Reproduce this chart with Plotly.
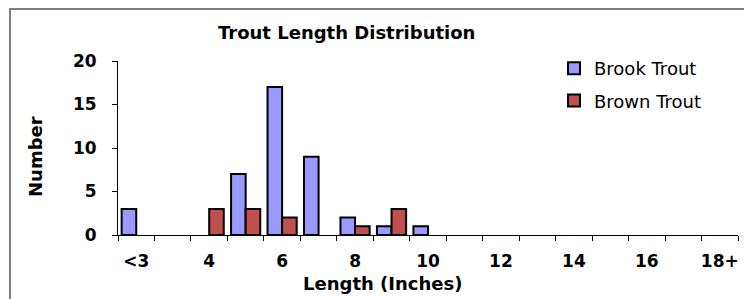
import plotly.graph_objects as go

categories = ["<3", "3", "4", "5", "6", "7", "8", "9", "10", "11", "12",
              "13", "14", "15", "16", "17", "18+"]
brook_trout = [3, 0, 0, 7, 17, 9, 2, 1, 1, 0, 0, 0, 0, 0, 0, 0, 0]
brown_trout = [0, 0, 3, 3, 2, 0, 1, 3, 0, 0, 0, 0, 0, 0, 0, 0, 0]
y_ticks = [0, 5, 10, 15, 20]
tick_text = [c if i % 2 == 0 else "" for i, c in enumerate(categories)]

FONT = "DejaVu Sans"

# page body has an 8px margin; the figure is sized to fit inside the window
OFF = 8
W, H = 752 - OFF, 299 - OFF
# target plot-area edges in window pixels
L, R, T, B = 118, 738, 61, 235
def dx(px):
    return (px - L) / (R - L)
def dy(py):
    return (B - py) / (B - T)

def drawn(vals):
    # empty classes are left blank, as in the original chart
    return [v if v > 0 else None for v in vals]

fig = go.Figure()
fig.add_trace(go.Bar(x=categories, y=drawn(brook_trout), name="Brook Trout",
                     marker=dict(color="#9999FF", line=dict(color="black", width=2)),
                     legendgroup="a"))
fig.add_trace(go.Bar(x=categories, y=drawn(brown_trout), name="Brown Trout",
                     marker=dict(color="#C0504D", line=dict(color="black", width=2)),
                     legendgroup="b"))

fig.update_layout(
    width=W, height=H,
    margin=dict(l=L - OFF, r=752 - R, t=T - OFF, b=299 - B, autoexpand=False),
    paper_bgcolor="white", plot_bgcolor="white",
    barmode="group", bargap=0.2, bargroupgap=0,
    font=dict(family=FONT, color="black"),
    showlegend=True,
    legend=dict(x=dx(554), y=dy(50), xanchor="left", yanchor="top",
                font=dict(family=FONT, size=18, color="black"),
                traceorder="grouped", tracegroupgap=6,
                bgcolor="rgba(0,0,0,0)", itemwidth=30),
    xaxis=dict(type="category", tickvals=categories, ticktext=tick_text,
               tickson="boundaries", ticks="outside", ticklen=5, tickwidth=1,
               tickcolor="black", showline=True, linecolor="black", linewidth=1,
               showgrid=False, tickangle=0, automargin=False,
               ticklabelstandoff=11,
               tickfont=dict(family=FONT, size=17, weight="bold"),
               range=[-0.5, 16.5]),
    yaxis=dict(range=[0, 20], tickvals=y_ticks, ticks="outside", ticklen=5,
               tickwidth=1, tickcolor="black", showline=True, linecolor="black",
               linewidth=1, showgrid=False, zeroline=False, automargin=False,
               ticklabelstandoff=12,
               tickfont=dict(family=FONT, size=17, weight="bold")),
)

def label(text, px, py, angle=0):
    fig.add_annotation(text=text, x=dx(px), y=dy(py), textangle=angle,
                       xref="x domain", yref="y domain", showarrow=False,
                       xanchor="center", yanchor="middle",
                       font=dict(family=FONT, size=18, weight="bold"))

label("Trout Length Distribution", 346, 33)
label("Length (Inches)", 382, 283)
label("Number", 35, 157, angle=-90)

fig.add_shape(type="rect", xref="x domain", yref="y domain",
              x0=dx(10), y0=dy(310), x1=dx(770), y1=dy(9),
              line=dict(color="#7f7f7f", width=2), fillcolor="rgba(0,0,0,0)",
              layer="below")

fig.write_html("out.html")
